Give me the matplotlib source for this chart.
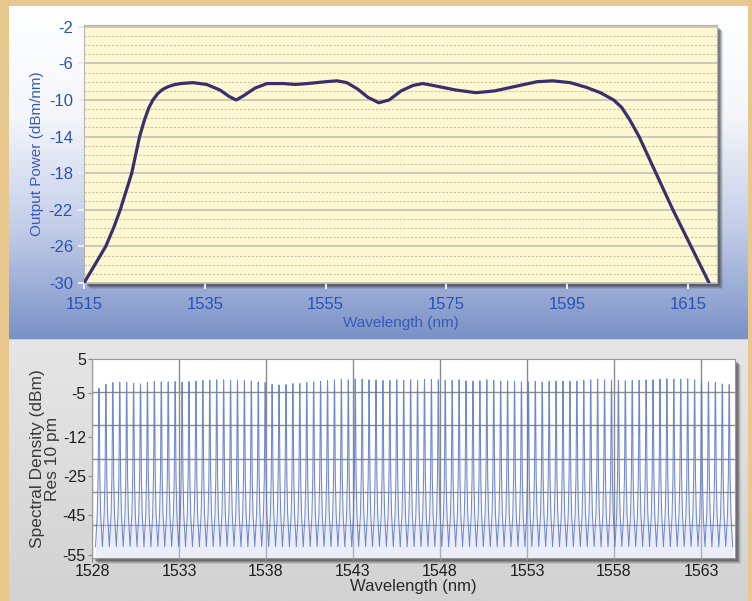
import numpy as np
import matplotlib
matplotlib.use("Agg")
import matplotlib.pyplot as plt
from matplotlib.colors import LinearSegmentedColormap
from matplotlib.patches import Rectangle
from matplotlib.ticker import MultipleLocator, FixedLocator

plt.rcParams['font.family'] = ['Liberation Sans', 'DejaVu Sans']
plt.rcParams['axes.unicode_minus'] = False

# --- top chart: amplifier output spectrum ---
wl_top = [1515, 1516.8, 1518.6, 1520, 1521, 1522.9, 1524.2, 1525.0, 1525.7, 1526.4,
          1527.2, 1528.0, 1528.9, 1529.8, 1531, 1533, 1535.3, 1537.5, 1539, 1540.2,
          1541.5, 1543.3, 1545.3, 1548, 1550, 1552, 1555, 1556.9, 1558.5, 1560.3,
          1562, 1563.8, 1565.5, 1567.5, 1569.5, 1571.1, 1573.5, 1576.5, 1579.9, 1583,
          1586.5, 1590, 1592.6, 1595.5, 1598.1, 1600.5, 1602.7, 1604.0, 1605.3, 1606.9,
          1609.7, 1612.5, 1615.5, 1618.5]
power_top = [-30, -28, -26, -23.8, -22, -18, -14, -12.2, -10.9, -10.0,
             -9.3, -8.85, -8.55, -8.35, -8.2, -8.1, -8.3, -8.9, -9.6, -10.0,
             -9.5, -8.7, -8.2, -8.2, -8.3, -8.2, -8.0, -7.9, -8.1, -8.8,
             -9.7, -10.3, -10.0, -9.0, -8.4, -8.2, -8.5, -8.9, -9.2, -9.0,
             -8.5, -8.0, -7.9, -8.1, -8.6, -9.2, -10.0, -10.8, -12.1, -14,
             -18, -22, -26, -30]

# --- bottom chart: DWDM comb, 92 channels ---
channel_start = 1528.40
channel_spacing = 0.398
peak_dbm = [-3.6, -2.4, -1.9, -1.8, -1.8, -2.1, -2.3, -1.9, -1.6, -1.7,
            -1.7, -1.6, -1.8, -1.6, -1.5, -1.3, -1.2, -1.1, -1.1, -1.2,
            -1.2, -1.3, -1.5, -1.7, -1.9, -2.4, -2.6, -2.5, -2.2, -2.2,
            -1.9, -1.7, -1.5, -1.3, -1.1, -0.9, -1.1, -0.9, -0.9, -1.1,
            -1.2,
            -1.3, -1.3, -1.1, -1.3, -1.1, -1.3, -0.9, -1.0, -1.1, -1.3,
            -1.3, -1.1, -1.4, -1.5, -1.4, -1.1, -1.2, -1.5, -1.4, -1.5,
            -1.7, -1.7, -1.5, -1.7, -1.5, -1.5, -1.5, -1.5, -1.5, -1.3,
            -1.1, -0.9, -1.1, -1.2, -1.3, -1.4, -1.3, -1.3, -1.1, -1.1,
            -0.9, -0.8, -0.9, -0.9, -0.8, -1.1, -1.4, -1.7, -1.9, -2.3,
            -2.5]
noise_floor = -53.0
# skirt of one channel: offset from centre (nm) -> level (dBm)
skirt_offset = [0.015, 0.03, 0.05, 0.1]
skirt_dbm = [-5, -12, -25, -45]

# odd y axis of the bottom chart: tick value -> position
ytick_vals = [-55, -45, -25, -12, -5, 5]
scale_vals = [-56, -55, -45, -25, -12, -5, 5]
scale_pos = [0, 0.1, 1.3, 2.46, 3.66, 4.97, 6.0]

W, H = 752, 601
fig = plt.figure(figsize=(W / 100, H / 100), dpi=100)
fig.patch.set_facecolor('#e8c88e')


def fig_rect(x0, y0, x1, y1):
    return [x0 / W, 1 - y1 / H, (x1 - x0) / W, (y1 - y0) / H]


def gradient_panel(rect, colors):
    bg = fig.add_axes(rect, zorder=-3)
    cmap = LinearSegmentedColormap.from_list('g', colors)
    g = np.linspace(0, 1, 256)
    bg.imshow(g[:, None], aspect='auto', cmap=cmap, extent=[0, 1, 1, 0])
    bg.axis('off')
    return bg


def shadow(x0, y0, x1, y1):
    for d, a in [(6, 0.12), (5, 0.18), (4, 0.25), (3, 0.3)]:
        fig.add_artist(Rectangle(((x0 + d) / W, 1 - (y1 + d) / H), (x1 - x0) / W, (y1 - y0) / H,
                                 transform=fig.transFigure, facecolor='#303030', alpha=a,
                                 edgecolor='none', zorder=-2))


gradient_panel(fig_rect(9, 6, 747, 339), ['#ffffff', '#f4f6fb', '#c3cde8', '#7a91c7'])
gradient_panel(fig_rect(9, 340, 748, 601), ['#e6e6e6', '#dcdcdc', '#d2d2d2'])

# ---------------- top chart ----------------
shadow(84, 25, 717, 283)
ax1 = fig.add_axes(fig_rect(84, 25, 717, 283))
ax1.set_facecolor('#fdf7d2')
ax1.plot(wl_top, power_top, color='#3a2f6a', lw=2.3, solid_capstyle='round',
         solid_joinstyle='round', zorder=3)
ax1.set_xlim(1515, 1619.8)
ax1.set_ylim(-30, -1.8)
ax1.set_xticks(range(1515, 1616, 20))
ax1.set_yticks(range(-30, -1, 4))
ax1.yaxis.set_minor_locator(MultipleLocator(1))
ax1.grid(axis='y', which='major', color='#bdbcb2', lw=1.1)
ax1.grid(axis='y', which='minor', color='#c9c4a6', lw=0.8, linestyle=(0, (2, 1.5)))
ax1.set_axisbelow(True)
for s in ax1.spines.values():
    s.set_color('#b5b5b5')
    s.set_linewidth(0.8)
ax1.tick_params(axis='both', which='major', labelsize=12, labelcolor='#2a52b5',
                color='#e8ecf4', length=4, width=1.5, pad=4)
ax1.tick_params(axis='x', which='major', pad=6)
ax1.tick_params(axis='y', which='minor', length=0)
ax1.set_xlabel('Wavelength (nm)', fontsize=11, color='#3a5ab8', labelpad=3)
ax1.set_ylabel('Output Power (dBm/nm)', fontsize=11, color='#3a5ab8', labelpad=3)

# ---------------- bottom chart ----------------
x_comb, y_comb = [], []
for i, p in enumerate(peak_dbm):
    c = channel_start + i * channel_spacing
    left = [(c - o, v) for o, v in zip(skirt_offset[::-1], skirt_dbm[::-1])]
    right = [(c + o, v) for o, v in zip(skirt_offset, skirt_dbm)]
    pts = [(c - channel_spacing / 2, noise_floor)] + left + [(c, p)] + right
    for xx, yy in pts:
        x_comb.append(xx)
        y_comb.append(yy)
x_comb.append(channel_start + (len(peak_dbm) - 0.5) * channel_spacing)
y_comb.append(noise_floor)


def fwd(v):
    return np.interp(v, scale_vals, scale_pos)


def inv(p):
    return np.interp(p, scale_pos, scale_vals)


shadow(92, 359, 735, 558)
ax2 = fig.add_axes(fig_rect(92, 359, 735, 558))
ax2.set_facecolor('white')
ax2.set_yscale('function', functions=(fwd, inv))
ax2.fill_between(x_comb, y_comb, -56, color='#d3daf1', alpha=0.45, lw=0, zorder=2)
ax2.plot(x_comb, y_comb, color='#5a76c4', lw=0.75, alpha=0.85, zorder=3)
ax2.set_xlim(1528, 1564.95)
ax2.set_ylim(-56, 5)
ax2.set_xticks(range(1528, 1564, 5))
ax2.set_yticks(ytick_vals)
ax2.yaxis.set_minor_locator(FixedLocator(inv(np.arange(1, 6))))
ax2.grid(axis='x', which='major', color='#8a8a8a', lw=1.0)
ax2.grid(axis='y', which='minor', color='#8a8a8a', lw=1.0)
ax2.set_axisbelow(True)
for s in ax2.spines.values():
    s.set_color('#9a9a9a')
    s.set_linewidth(0.8)
ax2.tick_params(axis='both', which='major', labelsize=11.5, labelcolor='#1e1e1e',
                color='#8a8a8a', length=3, pad=1.5)
ax2.tick_params(axis='y', which='minor', length=0)
ax2.set_xlabel('Wavelength (nm)', fontsize=12, color='#2a2a2a', labelpad=0)
ax2.set_ylabel('Spectral Density (dBm)\nRes 10 pm', fontsize=12.5, color='#3a3a3a',
               labelpad=2, linespacing=0.95)

fig.savefig('out.png', dpi=100, facecolor=fig.get_facecolor())
